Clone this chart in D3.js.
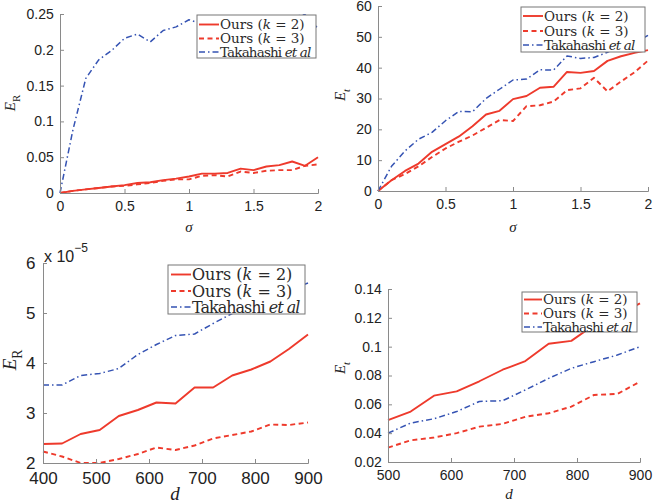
<!DOCTYPE html>
<html><head><meta charset="utf-8">
<script src="https://cdn.jsdelivr.net/npm/d3@7"></script>
<style>
body{margin:0;background:#fff;}
svg{display:block;}
</style></head>
<body>
<svg id="c" width="658" height="504"></svg>
<script>
// ---------- DATA ----------
const sigma = [0,0.1,0.2,0.3,0.4,0.5,0.6,0.7,0.8,0.9,1.0,1.1,1.2,1.3,1.4,1.5,1.6,1.7,1.8,1.9,2.0];
const d3vals = [400,436,471,507,543,579,614,650,686,721,757,793,829,864,900];
const d4vals = [500,536,573,609,645,682,718,755,791,827,864,900];

// Panel 1: E_R vs sigma
const p1_k2 = [0,0.003,0.005,0.007,0.009,0.011,0.014,0.015,0.018,0.020,0.023,0.027,0.027,0.028,0.034,0.032,0.037,0.039,0.044,0.038,0.050];
const p1_k3 = [0,0.003,0.005,0.007,0.009,0.010,0.012,0.014,0.017,0.019,0.019,0.024,0.025,0.023,0.030,0.028,0.031,0.032,0.032,0.038,0.040];
const p1_tak = [0,0.088,0.160,0.186,0.199,0.216,0.222,0.211,0.227,0.232,0.242,0.236,0.241,0.238,0.243,0.240,0.244,0.242,0.246,0.249,0.230];

// Panel 2: E_t vs sigma
const p2_k2 = [0,3.5,6.5,8.9,12.7,15.2,17.7,21.0,24.8,26.0,29.8,30.8,33.5,33.8,38.6,38.3,38.9,42.2,43.7,44.8,45.7];
const p2_k3 = [0,3.5,5.5,8.0,11.0,13.8,16.0,18.0,20.5,23.0,22.7,27.5,27.8,29.0,32.7,33.3,36.7,32.3,35.5,38.5,42.3];
const p2_tak = [0,8.0,13.0,16.8,19.0,22.8,25.8,25.7,30.0,33.0,36.0,36.3,39.3,39.2,43.8,43.0,43.3,45.0,47.0,48.0,50.5];

// Panel 3: E_R (x1e-5) vs d
const p3_k2 = [2.38,2.39,2.58,2.66,2.94,3.06,3.21,3.19,3.51,3.51,3.75,3.87,4.03,4.28,4.57];
const p3_k3 = [2.23,2.13,2.00,2.00,2.08,2.18,2.31,2.26,2.35,2.49,2.56,2.63,2.77,2.76,2.81];
const p3_tak = [3.56,3.56,3.75,3.79,3.89,4.17,4.37,4.55,4.58,4.79,4.99,5.20,5.35,5.45,5.60];

// Panel 4: E_t vs d
const p4_k2 = [0.049,0.055,0.066,0.069,0.076,0.084,0.090,0.102,0.104,0.115,0.122,0.130];
const p4_k3 = [0.030,0.035,0.037,0.040,0.0445,0.0464,0.0514,0.0538,0.0584,0.0665,0.0672,0.0757];
const p4_tak = [0.040,0.047,0.050,0.055,0.062,0.0625,0.070,0.078,0.085,0.0896,0.0942,0.100];

const ticksSigma = [0,0.5,1,1.5,2];
const ticksY1 = [0,0.05,0.1,0.15,0.2,0.25];
const ticksY2 = [0,10,20,30,40,50,60];
const ticksX3 = [400,500,600,700,800,900];
const ticksY3 = [2,3,4,5,6];
const ticksX4 = [500,600,700,800,900];
const ticksY4 = [0.02,0.04,0.06,0.08,0.1,0.12,0.14];

const seriesNames = ["k2","k3","tak"];
const legendLabels = [["Ours (", "k", " = 2)"], ["Ours (", "k", " = 3)"], ["Takahashi ", "et al", ""]];

// ---------- STYLE ----------
const RED = "#ee3a2c", BLUE = "#3553b3";
const styles = {
  k2: {color: RED, width: 1.9, dash: null},
  k3: {color: RED, width: 1.9, dash: "5,3.5"},
  tak:{color: BLUE, width: 1.5, dash: "6,3,1.5,3"}
};

const svg = d3.select("#c");

function drawPanel(cfg){
  const x = d3.scaleLinear().domain(cfg.xd).range([cfg.l, cfg.r]);
  const y = d3.scaleLinear().domain(cfg.yd).range([cfg.b, cfg.t]);
  const g = svg.append("g");

  // lines
  const series = [cfg.k2, cfg.k3, cfg.tak];
  seriesNames.forEach((nm, i) => {
    const st = styles[nm];
    const line = d3.line().x((v, j) => x(cfg.xs[j])).y(v => y(v));
    g.append("path").datum(series[i]).attr("d", line)
      .attr("fill","none").attr("stroke", st.color).attr("stroke-width", st.width)
      .attr("stroke-dasharray", st.dash).attr("stroke-linejoin","round");
  });

  // axes
  const ax = d3.axisBottom(x).tickValues(cfg.xt).tickSize(-4).tickPadding(cfg.fs*0.55).tickFormat(d3.format("~g"));
  const ay = d3.axisLeft(y).tickValues(cfg.yt).tickSize(-4).tickPadding(cfg.fs*0.45).tickFormat(d3.format("~g"));
  const gx = g.append("g").attr("transform", `translate(0,${cfg.b})`).call(ax);
  const gy = g.append("g").attr("transform", `translate(${cfg.l},0)`).call(ay);
  [gx, gy].forEach(a => {
    a.select(".domain").attr("stroke", "#8a8a8a").attr("stroke-width", 1);
    a.selectAll(".tick line").attr("stroke", "#8a8a8a");
    a.selectAll(".tick text").attr("fill", "#222").style("font-family", "Liberation Sans, Arial, sans-serif").style("font-size", cfg.fs + "px");
  });

  // axis labels
  const lf = "Liberation Serif, Times New Roman, serif";
  const yl = g.append("text").attr("transform", `translate(${cfg.ylx},${cfg.yly}) rotate(-90)`)
    .attr("text-anchor","middle").style("font-family", lf).style("font-size", cfg.lfs + "px").attr("fill","#222");
  yl.append("tspan").style("font-style","italic").text("E");
  yl.append("tspan").attr("dy", cfg.lfs*0.3).style("font-size", (cfg.lfs*0.72) + "px")
    .style("font-style", cfg.ysub === "R" ? "normal" : "italic").text(cfg.ysub);
  g.append("text").attr("x", cfg.xlx).attr("y", cfg.xly).attr("text-anchor","middle")
    .style("font-family", lf).style("font-size", cfg.lfs + "px").style("font-style","italic").attr("fill","#222").text(cfg.xlab);

  // legend
  const L = cfg.leg;
  const legFont = "DejaVu Serif, Liberation Serif, serif";
  g.append("rect").attr("x", L.x0).attr("y", L.y0).attr("width", L.x1 - L.x0).attr("height", L.y1 - L.y0)
    .attr("fill", "#fff").attr("stroke", "#777").attr("stroke-width", 1);
  seriesNames.forEach((nm, i) => {
    const st = styles[nm];
    const yy = L.rows[i];
    g.append("line").attr("x1", L.lx0).attr("x2", L.lx1).attr("y1", yy).attr("y2", yy)
      .attr("stroke", st.color).attr("stroke-width", st.width).attr("stroke-dasharray", st.dash);
    const t = g.append("text").attr("x", L.tx).attr("y", yy + L.fs*0.35)
      .style("font-family", legFont).style("font-size", L.fs + "px").attr("fill", "#2a2a2a")
      .style("letter-spacing", i === 2 ? L.ls + "px" : "0px");
    t.append("tspan").text(legendLabels[i][0]);
    t.append("tspan").style("font-style","italic").text(legendLabels[i][1]);
    t.append("tspan").text(legendLabels[i][2]);
  });
  return g;
}

drawPanel({xs: sigma, k2: p1_k2, k3: p1_k3, tak: p1_tak,
  xd:[0,2], yd:[0,0.25], l:60, r:318, t:14, b:193, xt: ticksSigma, yt: ticksY1, fs:14,
  ylx:15, yly:103, ysub:"R", xlx:189, xly:232, xlab:"σ", lfs:15,
  leg:{x0:197, x1:316, y0:15, y1:58, rows:[24.5,38.5,52], lx0:199, lx1:219, tx:220, fs:13.5, ls:-0.85}});

drawPanel({xs: sigma, k2: p2_k2, k3: p2_k3, tak: p2_tak,
  xd:[0,2], yd:[0,60], l:378, r:648, t:6, b:191, xt: ticksSigma, yt: ticksY2, fs:14,
  ylx:345, yly:95, ysub:"t", xlx:513, xly:232, xlab:"σ", lfs:15,
  leg:{x0:521, x1:645, y0:7, y1:52, rows:[16,31,45], lx0:523, lx1:543, tx:544, fs:13.5, ls:-0.85}});

const g3 = drawPanel({xs: d3vals, k2: p3_k2, k3: p3_k3, tak: p3_tak,
  xd:[400,900], yd:[2,6], l:43, r:308, t:263, b:463, xt: ticksX3, yt: ticksY3, fs:17,
  ylx:16, yly:360, ysub:"R", xlx:175, xly:500, xlab:"d", lfs:19,
  leg:{x0:168, x1:305, y0:265, y1:314, rows:[274.5,291,307], lx0:171, lx1:191, tx:192, fs:16, ls:-1}});
const exp = g3.append("text").attr("x", 44).attr("y", 262)
  .style("font-family","Liberation Sans, Arial, sans-serif").style("font-size","16px").attr("fill","#222");
exp.append("tspan").text("x 10");
exp.append("tspan").attr("dy", -10).style("font-size","12px").text("−5");

drawPanel({xs: d4vals, k2: p4_k2, k3: p4_k3, tak: p4_tak,
  xd:[500,900], yd:[0.02,0.14], l:388, r:640, t:289, b:462, xt: ticksX4, yt: ticksY4, fs:14,
  ylx:345, yly:368, ysub:"t", xlx:509, xly:499, xlab:"d", lfs:15,
  leg:{x0:522, x1:637, y0:292, y1:332, rows:[299.5,313.5,327], lx0:524, lx1:542, tx:543, fs:13.5, ls:-1}});
</script>
</body></html>
